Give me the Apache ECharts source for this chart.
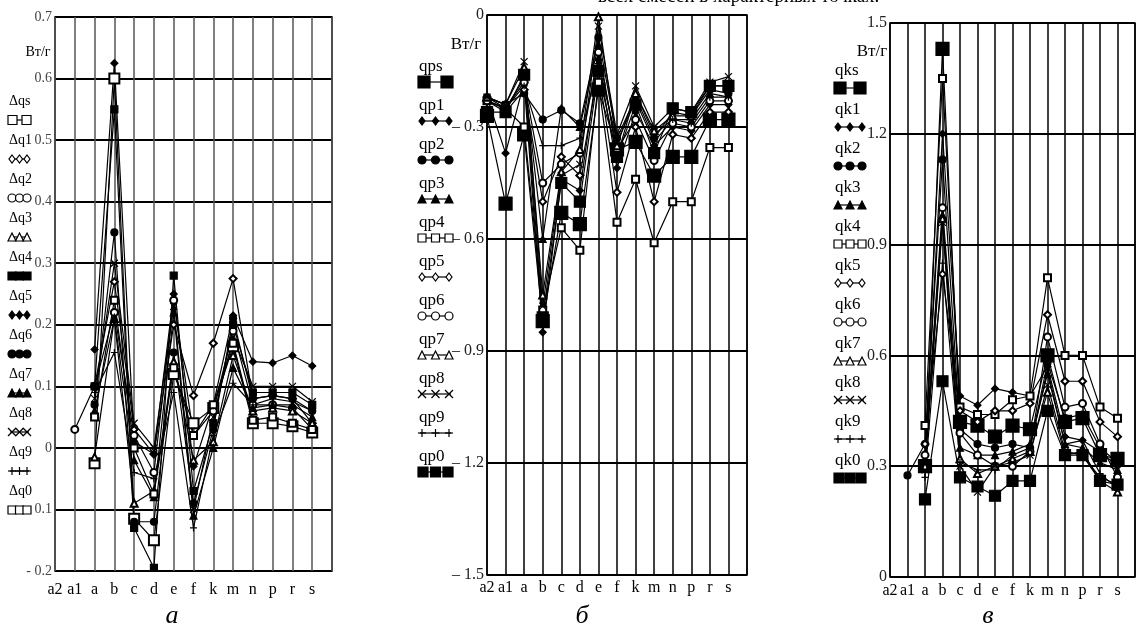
<!DOCTYPE html>
<html>
<head>
<meta charset="utf-8">
<script src="https://cdn.jsdelivr.net/npm/echarts@6/dist/echarts.min.js"></script>
<style>
  html, body { margin: 0; padding: 0; background: #fff; }
  #main { width: 1138px; height: 630px; }
</style>
</head>
<body>
<div id="main"></div>
<script>
// categories (characteristic points)
var cats = ['a2', 'a1', 'a', 'b', 'c', 'd', 'e', 'f', 'k', 'm', 'n', 'p', 'r', 's'];

// panel a: Δq, Вт/г
var dqS = [null, null, -0.025, 0.60, -0.115, -0.15, 0.12, 0.04, 0.065, 0.165, 0.04, 0.04, 0.035, 0.025];
var dq1 = [null, null, 0.10, 0.27, 0.03, -0.01, 0.20, 0.085, 0.17, 0.275, 0.08, 0.085, 0.08, 0.04];
var dq2 = [null, 0.03, 0.10, 0.22, 0.02, -0.04, 0.24, 0.02, 0.06, 0.19, 0.07, 0.07, 0.065, 0.03];
var dq3 = [null, null, -0.015, 0.21, -0.09, -0.07, 0.14, -0.02, 0.01, 0.15, 0.06, 0.065, 0.06, 0.04];
var dq4 = [null, null, 0.10, 0.55, -0.13, -0.195, 0.28, -0.07, 0.04, 0.20, 0.09, 0.09, 0.09, 0.07];
var dq5 = [null, null, 0.16, 0.625, 0.01, -0.01, 0.25, -0.03, 0.07, 0.215, 0.14, 0.138, 0.15, 0.133];
var dq6 = [null, null, 0.07, 0.35, -0.12, -0.12, 0.155, -0.09, 0.03, 0.21, 0.08, 0.085, 0.08, 0.06];
var dq7 = [null, null, 0.06, 0.21, -0.02, -0.08, 0.22, -0.11, 0.0, 0.13, 0.065, 0.07, 0.07, 0.05];
var dq8 = [null, null, 0.08, 0.30, 0.04, 0.0, 0.23, -0.10, 0.05, 0.18, 0.10, 0.10, 0.10, 0.075];
var dq9 = [null, null, 0.09, 0.155, -0.04, -0.05, 0.09, -0.13, 0.02, 0.105, 0.07, 0.08, 0.075, 0.06];
var dq0 = [null, null, 0.05, 0.24, 0.0, -0.075, 0.13, 0.02, 0.07, 0.17, 0.045, 0.05, 0.04, 0.03];

// panel б: qp, Вт/г
var qpS = [-0.27, -0.505, -0.32, -0.82, -0.53, -0.56, -0.20, -0.36, -0.34, -0.43, -0.38, -0.38, -0.28, -0.28];
var qp1 = [-0.22, -0.37, -0.18, -0.85, -0.44, -0.47, -0.12, -0.41, -0.26, -0.35, -0.30, -0.31, -0.24, -0.24];
var qp2 = [-0.22, -0.24, -0.21, -0.28, -0.255, -0.29, -0.06, -0.33, -0.22, -0.33, -0.26, -0.27, -0.20, -0.21];
var qp3 = [-0.23, -0.25, -0.17, -0.60, -0.25, -0.30, -0.08, -0.38, -0.21, -0.32, -0.28, -0.28, -0.21, -0.22];
var qp4 = [-0.23, -0.25, -0.30, -0.79, -0.57, -0.63, -0.18, -0.555, -0.44, -0.61, -0.50, -0.50, -0.355, -0.355];
var qp5 = [-0.23, -0.26, -0.20, -0.50, -0.38, -0.43, -0.15, -0.475, -0.30, -0.50, -0.32, -0.33, -0.26, -0.26];
var qp6 = [-0.23, -0.25, -0.18, -0.45, -0.40, -0.37, -0.10, -0.36, -0.28, -0.39, -0.29, -0.30, -0.23, -0.23];
var qp7 = [-0.22, -0.24, -0.14, -0.75, -0.42, -0.36, -0.005, -0.35, -0.21, -0.31, -0.27, -0.27, -0.19, -0.19];
var qp8 = [-0.22, -0.24, -0.125, -0.78, -0.43, -0.40, -0.03, -0.32, -0.19, -0.30, -0.25, -0.26, -0.18, -0.165];
var qp9 = [-0.22, -0.25, -0.19, -0.35, -0.35, -0.33, -0.13, -0.34, -0.23, -0.34, -0.28, -0.29, -0.22, -0.22];
var qp0 = [-0.26, -0.26, -0.16, -0.81, -0.45, -0.50, -0.15, -0.38, -0.24, -0.37, -0.25, -0.26, -0.19, -0.19];

// panel в: qk, Вт/г
var qkS = [null, null, 0.30, 1.43, 0.42, 0.41, 0.38, 0.41, 0.40, 0.60, 0.42, 0.43, 0.33, 0.32];
var qk1 = [null, null, 0.33, 1.20, 0.49, 0.465, 0.51, 0.50, 0.49, 0.57, 0.38, 0.37, 0.34, 0.30];
var qk2 = [null, 0.275, 0.36, 1.13, 0.40, 0.36, 0.35, 0.36, 0.35, 0.58, 0.43, 0.44, 0.35, 0.31];
var qk3 = [null, null, 0.32, 0.98, 0.35, 0.33, 0.33, 0.34, 0.36, 0.55, 0.36, 0.35, 0.31, 0.29];
var qk4 = [null, null, 0.41, 1.35, 0.46, 0.44, 0.44, 0.48, 0.49, 0.81, 0.60, 0.60, 0.46, 0.43];
var qk5 = [null, null, 0.36, 0.82, 0.45, 0.42, 0.45, 0.45, 0.47, 0.71, 0.53, 0.53, 0.42, 0.38];
var qk6 = [null, null, 0.33, 1.00, 0.39, 0.33, 0.30, 0.30, 0.34, 0.65, 0.46, 0.47, 0.36, 0.27];
var qk7 = [null, null, 0.30, 0.97, 0.32, 0.28, 0.30, 0.32, 0.34, 0.50, 0.33, 0.34, 0.26, 0.23];
var qk8 = [null, null, 0.29, 0.96, 0.30, 0.23, 0.30, 0.31, 0.33, 0.52, 0.34, 0.33, 0.27, 0.25];
var qk9 = [null, null, 0.27, 0.85, 0.31, 0.29, 0.29, 0.33, 0.35, 0.56, 0.36, 0.37, 0.28, 0.24];
var qk0 = [null, null, 0.21, 0.53, 0.27, 0.245, 0.22, 0.26, 0.26, 0.45, 0.33, 0.33, 0.26, 0.25];

var namesA = ['Δqs', 'Δq1', 'Δq2', 'Δq3', 'Δq4', 'Δq5', 'Δq6', 'Δq7', 'Δq8', 'Δq9', 'Δq0'];
var namesB = ['qps', 'qp1', 'qp2', 'qp3', 'qp4', 'qp5', 'qp6', 'qp7', 'qp8', 'qp9', 'qp0'];
var namesC = ['qks', 'qk1', 'qk2', 'qk3', 'qk4', 'qk5', 'qk6', 'qk7', 'qk8', 'qk9', 'qk0'];

var dataA = [dqS, dq1, dq2, dq3, dq4, dq5, dq6, dq7, dq8, dq9, dq0];
var dataB = [qpS, qp1, qp2, qp3, qp4, qp5, qp6, qp7, qp8, qp9, qp0];
var dataC = [qkS, qk1, qk2, qk3, qk4, qk5, qk6, qk7, qk8, qk9, qk0];

var kindsA = ['emptyRect', 'emptyDiamond', 'emptyCircle', 'emptyTriangle', 'rect', 'diamond', 'circle', 'triangle', 'x', 'plus', 'emptyRect'];
var kindsB = ['rect', 'diamond', 'circle', 'triangle', 'emptyRect', 'emptyDiamond', 'emptyCircle', 'emptyTriangle', 'x', 'plus', 'rect'];

var SERIF = '"Liberation Serif", "DejaVu Serif", serif';

var symbolMap = {
  x: 'path://M0,0L10,10M10,0L0,10',
  plus: 'path://M5,0L5,10M0,5L10,5'
};

function makeSeries(data, names, kinds, gi, bigSize, lastSize) {
  return data.map(function (d, i) {
    var size = 7;
    if (i === 0) size = bigSize;
    if (i === 10) size = lastSize;
    return {
      name: names[i],
      type: 'line',
      xAxisIndex: gi,
      yAxisIndex: gi,
      data: d,
      symbol: symbolMap[kinds[i]] || kinds[i],
      symbolSize: size,
      showSymbol: true,
      lineStyle: { color: '#000', width: 1.2 },
      itemStyle: { color: '#000', borderColor: '#000', borderWidth: 1.2 },
      emphasis: { disabled: true }
    };
  });
}

// little legend samples: text over a short line with symbols
function symEl(kind, cx, cy, s) {
  var empty = kind.indexOf('empty') === 0;
  var base = empty ? kind.slice(5).toLowerCase() : kind;
  var st = { fill: empty ? '#fff' : '#000', stroke: '#000', lineWidth: 1.2 };
  var h = s / 2;
  if (base === 'rect') return [{ type: 'rect', z: 10, shape: { x: cx - h, y: cy - h, width: s, height: s }, style: st }];
  if (base === 'circle') return [{ type: 'circle', z: 10, shape: { cx: cx, cy: cy, r: h }, style: st }];
  if (base === 'diamond') return [{ type: 'polygon', z: 10, shape: { points: [[cx, cy - h], [cx + h * 0.75, cy], [cx, cy + h], [cx - h * 0.75, cy]] }, style: st }];
  if (base === 'triangle') return [{ type: 'polygon', z: 10, shape: { points: [[cx, cy - h], [cx + h, cy + h], [cx - h, cy + h]] }, style: st }];
  var ls = { stroke: '#000', lineWidth: 1.2 };
  if (base === 'x') return [
    { type: 'line', z: 10, shape: { x1: cx - h, y1: cy - h, x2: cx + h, y2: cy + h }, style: ls },
    { type: 'line', z: 10, shape: { x1: cx - h, y1: cy + h, x2: cx + h, y2: cy - h }, style: ls }
  ];
  return [
    { type: 'line', z: 10, shape: { x1: cx, y1: cy - h, x2: cx, y2: cy + h }, style: ls },
    { type: 'line', z: 10, shape: { x1: cx - h, y1: cy, x2: cx + h, y2: cy }, style: ls }
  ];
}

function legendEls(names, kinds, x, w, y0, gap, off, big, fs) {
  var els = [];
  names.forEach(function (n, i) {
    var ty = y0 + i * gap;
    var sy = ty + off;
    els.push({ type: 'text', z: 10, x: x + 1, y: ty, style: { text: n, font: fs + 'px ' + SERIF, fill: '#000', verticalAlign: 'middle' } });
    els.push({ type: 'line', z: 10, shape: { x1: x + 2, y1: sy, x2: x + w - 2, y2: sy }, style: { stroke: '#000', lineWidth: 1.2 } });
    if (i === 0) {
      els = els.concat(symEl(kinds[i], x + big / 2, sy, big), symEl(kinds[i], x + w - big / 2, sy, big));
    } else {
      var s = (kinds[i] === 'rect' && big > 10) ? 10 : 8;
      [x + s / 2, x + w / 2, x + w - s / 2].forEach(function (cx) {
        els = els.concat(symEl(kinds[i], cx, sy, s));
      });
    }
  });
  return els;
}

function txt(t, x, y, size, extra) {
  return {
    type: 'text', z: 10, x: x, y: y,
    style: Object.assign({ text: t, font: size + 'px ' + SERIF, fill: '#000', align: 'center', verticalAlign: 'middle' }, extra || {})
  };
}

var xCats = cats.concat(['']);

function xAxisFor(gi, margin, vColor) {
  return {
    type: 'category', gridIndex: gi, data: xCats, boundaryGap: false,
    axisLine: { show: false }, axisTick: { show: false },
    axisLabel: { interval: 0, margin: margin, color: '#000', fontFamily: SERIF, fontSize: 16 },
    splitLine: { show: true, interval: 0, lineStyle: { color: vColor, width: 1.5 } }
  };
}

function yAxisFor(gi, min, max, step, fmt, color, fs) {
  return {
    type: 'value', gridIndex: gi, min: min, max: max, interval: step,
    axisLine: { show: false }, axisTick: { show: false },
    axisLabel: { margin: 3, color: color, fontFamily: SERIF, fontSize: fs, formatter: fmt },
    splitLine: { show: true, lineStyle: { color: '#000', width: 2 } }
  };
}

var chart = echarts.init(document.getElementById('main'));

chart.setOption({
  animation: false,
  backgroundColor: '#fff',
  grid: [
    { left: 55, top: 17, width: 277, height: 554, show: true, borderColor: '#000', borderWidth: 1.5 },
    { left: 487, top: 15, width: 260, height: 560, show: true, borderColor: '#000', borderWidth: 1.5 },
    { left: 890, top: 23, width: 247, height: 554, show: true, borderColor: '#000', borderWidth: 1.5 }
  ],
  xAxis: [xAxisFor(0, 11, '#555'), xAxisFor(1, 5, '#000'), xAxisFor(2, 6, '#000')],
  yAxis: [
    yAxisFor(0, -0.2, 0.7, 0.1, function (v) {
      if (Math.abs(v) < 1e-9) return '0';
      return v < 0 ? '- ' + Math.abs(v).toFixed(1) : v.toFixed(1);
    }, '#444', 14),
    yAxisFor(1, -1.5, 0, 0.3, function (v) {
      if (Math.abs(v) < 1e-9) return '0';
      return '\u2013 ' + Math.abs(v).toFixed(1);
    }, '#222', 16),
    yAxisFor(2, 0, 1.5, 0.3, function (v) {
      if (Math.abs(v) < 1e-9) return '0';
      return v.toFixed(1);
    }, '#222', 16)
  ],
  series: []
    .concat(makeSeries(dataA, namesA, kindsA, 0, 10, 7))
    .concat(makeSeries(dataB, namesB, kindsB, 1, 13, 11))
    .concat(makeSeries(dataC, namesC, kindsB, 2, 13, 11)),
  graphic: []
    .concat(legendEls(namesA, kindsA, 8, 23, 101, 39, 19, 9, 14))
    .concat(legendEls(namesB, kindsB, 418, 35, 67, 39, 15, 12, 17))
    .concat(legendEls(namesC, kindsB, 834, 32, 71, 39, 17, 12, 17))
    .concat([
      txt('Вт/г', 38, 52, 14),
      txt('Вт/г', 466, 45, 17),
      txt('Вт/г', 872, 52, 17),
      txt('а', 172, 616, 26, { font: 'italic 26px ' + SERIF }),
      txt('б', 582, 616, 26, { font: 'italic 26px ' + SERIF }),
      txt('в', 988, 616, 26, { font: 'italic 26px ' + SERIF }),
      txt('всех смесей в характерных точках.', 598, 7, 19, { align: 'left', verticalAlign: 'bottom' })
    ])
});
</script>
</body>
</html>
